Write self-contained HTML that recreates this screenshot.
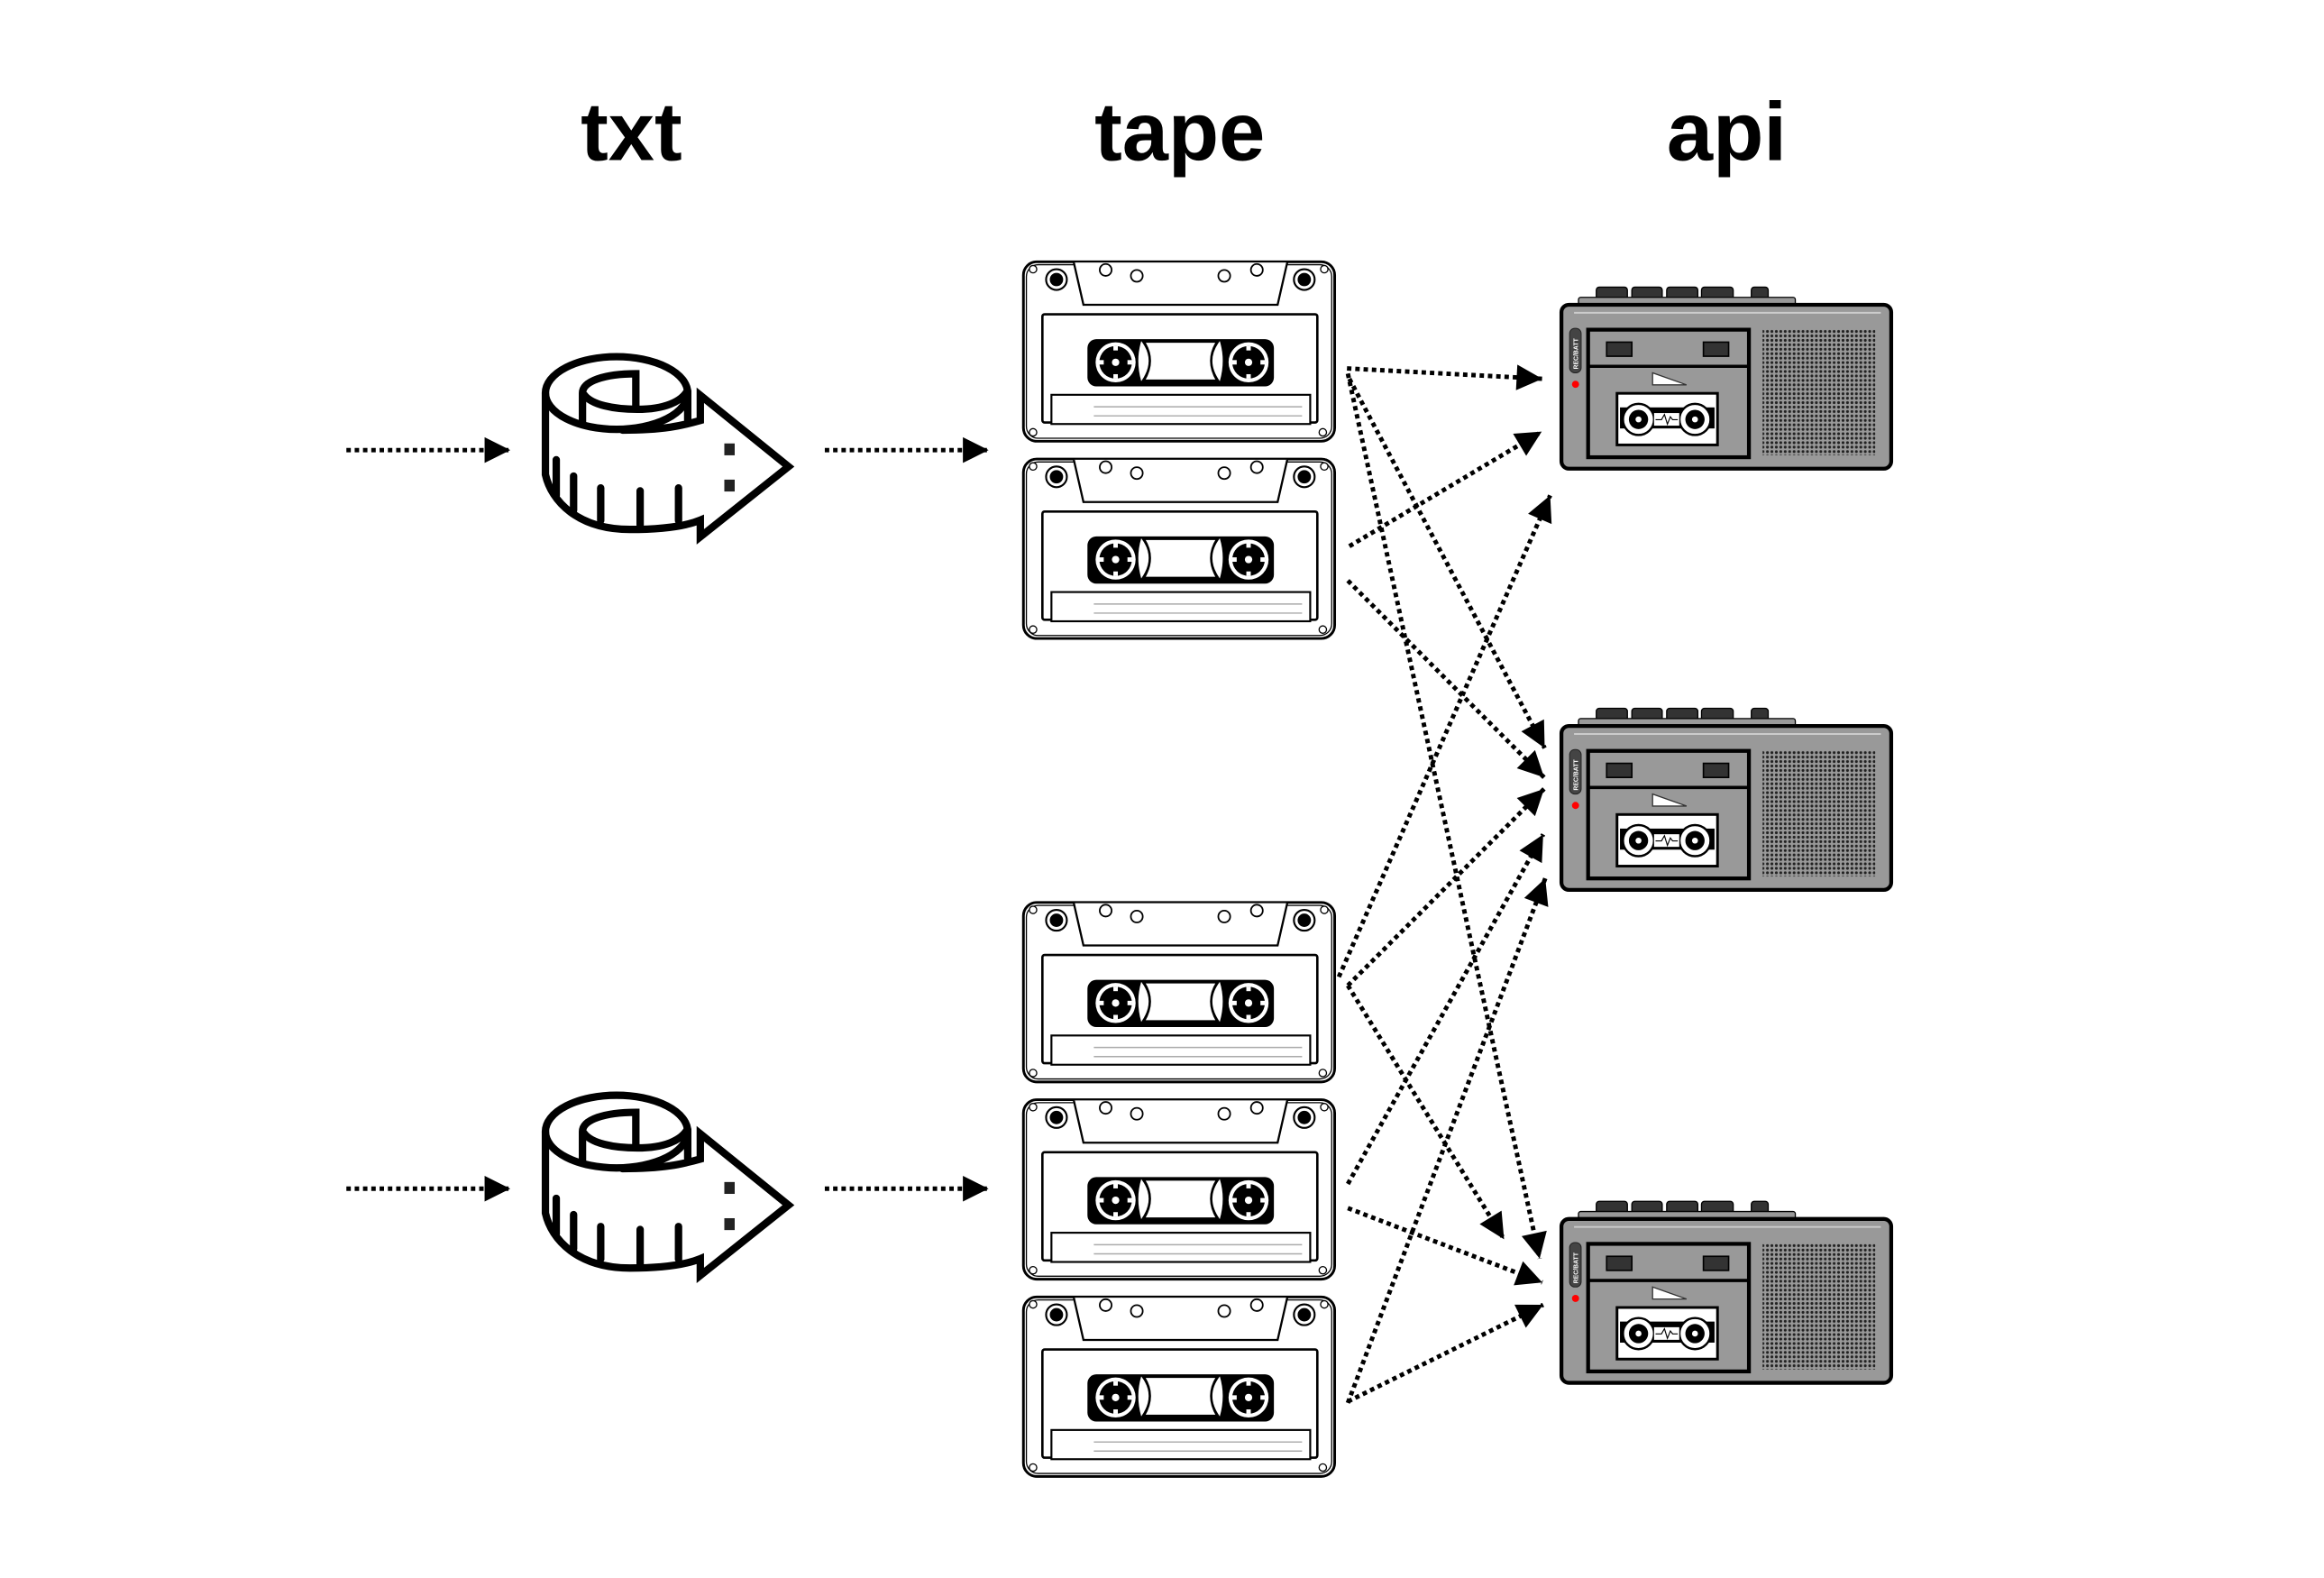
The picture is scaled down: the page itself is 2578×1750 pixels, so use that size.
<!DOCTYPE html>
<html><head><meta charset="utf-8"><style>html,body{margin:0;padding:0;background:#fff}svg{display:block}</style></head>
<body>
<svg width="2578" height="1750" viewBox="0 0 1568 1064" preserveAspectRatio="none" xmlns="http://www.w3.org/2000/svg">
<defs>
<marker id="ah" markerUnits="userSpaceOnUse" markerWidth="20" markerHeight="20" refX="15.6" refY="0" viewBox="-1 -9 18 18" orient="auto">
<path d="M0,-7.8 L15.6,0 L0,7.8 z" fill="#000"/>
</marker>
<pattern id="grill" width="3" height="3" patternUnits="userSpaceOnUse">
<rect width="3" height="3" fill="#999"/><circle cx="1.5" cy="1.5" r="0.95" fill="#222"/>
</pattern>
<g id="reel">
<circle r="13.5" fill="#fff"/>
<circle r="11" fill="#000"/>
<circle r="2.5" fill="#fff"/>
<rect x="-1.5" y="-11" width="3" height="3" fill="#fff"/>
<rect x="-1.5" y="8" width="3" height="3" fill="#fff"/>
<rect x="-11" y="-1.5" width="3" height="3" fill="#fff"/>
<rect x="8" y="-1.5" width="3" height="3" fill="#fff"/>
</g>
<g id="cas">
<rect x="690.5" y="176.5" width="210" height="121" rx="9" fill="#fff" stroke="#000" stroke-width="1.8"/>
<rect x="692.5" y="178.5" width="206" height="117" rx="8" fill="none" stroke="#000" stroke-width="0.8"/>
<path d="M724.5,177 L731,205.5 L862,205.5 L868.5,177" fill="#fff" stroke="#000" stroke-width="1.4"/>
<circle cx="746" cy="182" r="4" fill="#fff" stroke="#000" stroke-width="1.1"/>
<circle cx="767" cy="186" r="4" fill="#fff" stroke="#000" stroke-width="1.1"/>
<circle cx="826" cy="186" r="4" fill="#fff" stroke="#000" stroke-width="1.1"/>
<circle cx="848" cy="182" r="4" fill="#fff" stroke="#000" stroke-width="1.1"/>
<circle cx="712.8" cy="188.5" r="7" fill="#fff" stroke="#000" stroke-width="1.3"/>
<circle cx="712.8" cy="188.5" r="4.5" fill="#000"/>
<circle cx="880" cy="188.5" r="7" fill="#fff" stroke="#000" stroke-width="1.3"/>
<circle cx="880" cy="188.5" r="4.5" fill="#000"/>
<circle cx="697" cy="181.5" r="2.5" fill="#fff" stroke="#000" stroke-width="0.8"/>
<circle cx="893.5" cy="181.5" r="2.5" fill="#fff" stroke="#000" stroke-width="0.8"/>
<circle cx="697" cy="291.5" r="2.5" fill="#fff" stroke="#000" stroke-width="0.8"/>
<circle cx="892.5" cy="291.5" r="2.5" fill="#fff" stroke="#000" stroke-width="0.8"/>
<rect x="703.3" y="211.9" width="185.5" height="73" rx="1.5" fill="#fff" stroke="#000" stroke-width="1.6"/>
<rect x="733.7" y="228.7" width="125.8" height="31.8" rx="6" fill="#000"/>
<path d="M772,230.5 L821,230.5 Q813,243 821,256.5 L772,256.5 Q780,243 772,230.5 z" fill="#fff" stroke="#000" stroke-width="1.2"/>
<path d="M770,230 Q780,243 770,257 Q766,243 770,230 z" fill="#fff"/>
<path d="M823,230 Q813,243 823,257 Q827,243 823,230 z" fill="#fff"/>
<use href="#reel" x="752.7" y="244.3"/>
<use href="#reel" x="842.4" y="244.3"/>
<rect x="709.4" y="266.2" width="174.6" height="19.7" fill="#fff" stroke="#000" stroke-width="1.3"/>
<line x1="738" y1="274.3" x2="878.5" y2="274.3" stroke="#aaa" stroke-width="0.9"/>
<line x1="738" y1="280.4" x2="878.5" y2="280.4" stroke="#aaa" stroke-width="0.9"/>
</g>
<g id="rec">
<rect x="1077" y="193.6" width="21" height="9" rx="2" fill="#333" stroke="#000" stroke-width="0.8"/>
<rect x="1101" y="193.6" width="20.5" height="9" rx="2" fill="#333" stroke="#000" stroke-width="0.8"/>
<rect x="1124.5" y="193.6" width="21" height="9" rx="2" fill="#333" stroke="#000" stroke-width="0.8"/>
<rect x="1148" y="193.6" width="21.4" height="9" rx="2" fill="#333" stroke="#000" stroke-width="0.8"/>
<rect x="1181.6" y="193.6" width="11.4" height="9" rx="2" fill="#333" stroke="#000" stroke-width="0.8"/>
<rect x="1065" y="200.5" width="146.3" height="6" rx="1.5" fill="#999" stroke="#000" stroke-width="0.8"/>
<rect x="1053.5" y="205.5" width="222.5" height="110.5" rx="5" fill="#999" stroke="#000" stroke-width="2.6"/>
<line x1="1062" y1="210.9" x2="1269" y2="210.9" stroke="#ccc" stroke-width="1.2"/>
<rect x="1059" y="221.4" width="7.8" height="30" rx="3.5" fill="#444" stroke="#222" stroke-width="0.6"/>
<circle cx="1063" cy="259.1" r="2.4" fill="#f00"/>
<rect x="1071.5" y="222.3" width="108.5" height="86" fill="#999" stroke="#000" stroke-width="2.6"/>
<line x1="1071.5" y1="247" x2="1180" y2="247" stroke="#000" stroke-width="2.2"/>
<rect x="1084" y="230.7" width="17" height="9.5" fill="#333" stroke="#000" stroke-width="1"/>
<rect x="1149.3" y="230.7" width="17" height="9.5" fill="#333" stroke="#000" stroke-width="1"/>
<path d="M1115,251.4 L1115,259.5 L1137.9,259.5 z" fill="#fff" stroke="#333" stroke-width="0.8"/>
<rect x="1091" y="265.2" width="67.8" height="34.8" fill="#fff" stroke="#000" stroke-width="1.8"/>
<rect x="1093" y="274.7" width="63.8" height="14.2" fill="#000"/>
<circle cx="1105.5" cy="282.8" r="10.5" fill="#fff" stroke="#000" stroke-width="1.5"/>
<circle cx="1105.5" cy="282.8" r="6.5" fill="#000"/>
<circle cx="1105.5" cy="282.8" r="2" fill="#fff"/>
<circle cx="1143.6" cy="282.8" r="10.5" fill="#fff" stroke="#000" stroke-width="1.5"/>
<circle cx="1143.6" cy="282.8" r="6.5" fill="#000"/>
<circle cx="1143.6" cy="282.8" r="2" fill="#fff"/>
<rect x="1116" y="278.5" width="17" height="8.5" fill="#fff"/>
<path d="M1117,283 L1121,283 L1123,279.5 L1125,286 L1127,281 L1128.5,283 L1132,283" fill="none" stroke="#000" stroke-width="0.7"/>
<rect x="1189.2" y="222" width="76" height="85" fill="url(#grill)"/>
</g>
<g id="tapem" fill="none" stroke="#000" stroke-width="5" stroke-linejoin="miter" stroke-linecap="round">
<ellipse cx="416" cy="265" rx="48" ry="24.5"/>
<path d="M368,265 L368,320 C372,338 390,357 425,357 C445,357 462,355 472.5,350.7 L472.5,362 L532,314.6 L472.5,266.5 L472.5,283.5 C460,287 448,290 420,290"/>
<path d="M429,274 L429,252 C408,252 393,257 393,265 L393,286"/>
<path d="M394,266 C399,273 414,276 430,276 C448,276 460,271 464,263 L464,283"/>
<line x1="375.3" y1="310" x2="375.3" y2="334"/>
<line x1="387" y1="321" x2="387" y2="344"/>
<line x1="405.3" y1="329" x2="405.3" y2="351"/>
<line x1="431.9" y1="331" x2="431.9" y2="354"/>
<line x1="457.8" y1="329" x2="457.8" y2="351"/>
<rect x="488.7" y="299" width="7" height="8" fill="#222" stroke="none"/>
<rect x="488.7" y="323.4" width="7" height="8" fill="#222" stroke="none"/>
</g>
</defs>

<g font-family="Liberation Sans, Arial, sans-serif" font-weight="bold" font-size="56" text-anchor="middle" fill="#000">
<text x="426" y="108">txt</text>
<text x="796" y="108">tape</text>
<text x="1165" y="108">api</text>
</g>

<use href="#tapem"/>
<use href="#tapem" y="498"/>

<use href="#cas"/>
<use href="#cas" y="133"/>
<use href="#cas" y="432"/>
<use href="#cas" y="565"/>
<use href="#cas" y="698"/>

<g>
<use href="#rec"/>
<text x="0" y="0" transform="translate(1064.6,249) rotate(-90)" font-family="Liberation Sans, sans-serif" font-weight="bold" font-size="4.2" fill="#fff">REC/BATT</text>
</g>
<g>
<use href="#rec" y="284"/>
<text x="0" y="0" transform="translate(1064.6,533) rotate(-90)" font-family="Liberation Sans, sans-serif" font-weight="bold" font-size="4.2" fill="#fff">REC/BATT</text>
</g>
<g>
<use href="#rec" y="616.4"/>
<text x="0" y="0" transform="translate(1064.6,865.4) rotate(-90)" font-family="Liberation Sans, sans-serif" font-weight="bold" font-size="4.2" fill="#fff">REC/BATT</text>
</g>

<g stroke="#000" stroke-width="3" stroke-dasharray="3 2.6" fill="none" marker-end="url(#ah)">
<line x1="233.7" y1="303.5" x2="344.3" y2="303.5"/>
<line x1="556.5" y1="303.5" x2="667" y2="303.5"/>
<line x1="233.7" y1="801.5" x2="344.3" y2="801.5"/>
<line x1="556.5" y1="801.5" x2="667" y2="801.5"/>

<line x1="908.8" y1="248.4" x2="1040.6" y2="255.4"/>
<line x1="909.4" y1="251.9" x2="1038.8" y2="848.6"/>
<line x1="910.4" y1="255.4" x2="1042.2" y2="504.4"/>
<line x1="910.4" y1="368.3" x2="1040.2" y2="291"/>
<line x1="909.4" y1="391.5" x2="1041.8" y2="524.2"/>
<line x1="903.3" y1="658.7" x2="1045.9" y2="334"/>
<line x1="909.4" y1="664.5" x2="1041.8" y2="531.9"/>
<line x1="909.4" y1="664.5" x2="1014.8" y2="835.6"/>
<line x1="909.4" y1="798.3" x2="1041.2" y2="562.6"/>
<line x1="909.4" y1="814.6" x2="1040.6" y2="864.7"/>
<line x1="909.4" y1="946" x2="1042.6" y2="592.3"/>
<line x1="909.4" y1="945" x2="1041.2" y2="879.8"/>
</g>
</svg>
</body></html>
